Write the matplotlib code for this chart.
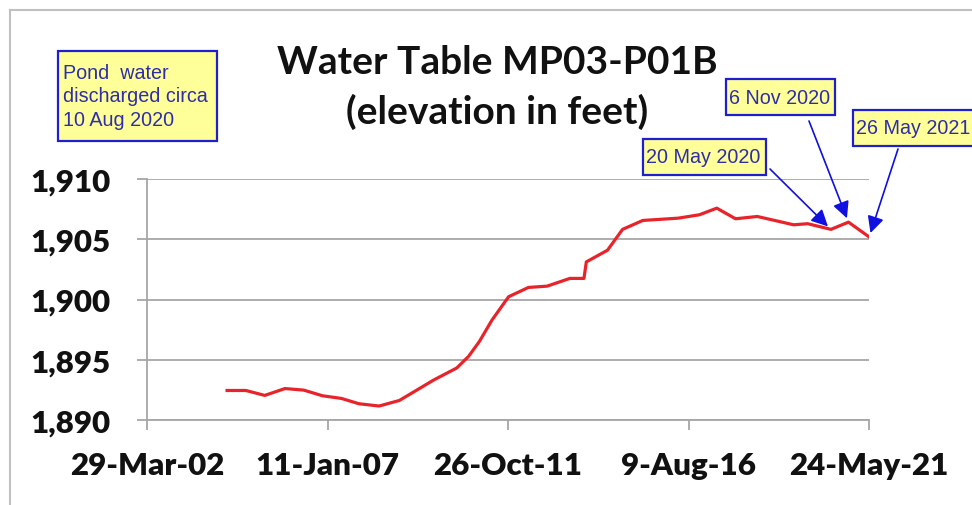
import numpy as np
import pandas as pd
import matplotlib
matplotlib.use("Agg")
import matplotlib.pyplot as plt
from matplotlib.lines import Line2D
from matplotlib.patches import Rectangle

# survey dates and water table elevation (ft)
dates = pd.to_datetime([
    "2004-05-13", "2004-11-11", "2005-05-13", "2005-11-25", "2006-05-26",
    "2006-11-24", "2007-05-26", "2007-11-11", "2008-05-25", "2008-12-07",
    "2009-05-25", "2009-11-01", "2010-06-17", "2010-10-09", "2011-01-22",
    "2011-05-25", "2011-11-01", "2012-05-11", "2012-11-09", "2013-06-16",
    "2013-10-31", "2013-11-23", "2014-06-16", "2014-11-09", "2015-05-24",
    "2016-05-01", "2016-11-22", "2017-05-10", "2017-11-08", "2018-06-06",
    "2018-11-22", "2019-05-24", "2019-10-08", "2020-05-20", "2020-11-06",
    "2021-05-26",
])
elev = [
    1892.45, 1892.45, 1892.04, 1892.61, 1892.48,
    1892.01, 1891.79, 1891.35, 1891.16, 1891.62,
    1892.48, 1893.30, 1894.32, 1895.28, 1896.52,
    1898.31, 1900.23, 1901.00, 1901.11, 1901.75,
    1901.75, 1903.12, 1904.09, 1905.82, 1906.56,
    1906.75, 1907.03, 1907.58, 1906.70, 1906.89,
    1906.56, 1906.20, 1906.29, 1905.82, 1906.42,
    1905.19,
]

x_ticks = pd.to_datetime(["2002-03-29", "2007-01-11", "2011-10-26", "2016-08-09", "2021-05-24"])
y_ticks = [1890, 1895, 1900, 1905, 1910]

callouts = ["20 May 2020", "6 Nov 2020", "26 May 2021"]
callout_dates = pd.to_datetime(["2020-05-20", "2020-11-06", "2021-05-26"])
callout_vals = [1905.82, 1906.42, 1905.19]

W, H = 972, 506
fig = plt.figure(figsize=(W / 100, H / 100), dpi=100)
ax = fig.add_axes([147 / W, 1 - 421 / H, (869 - 147) / W, (421 - 180) / H])

grey = "#a6a6a6"
ax.plot(dates, elev, color="#e8242a", lw=2.3, solid_joinstyle="round")

ax.set_xlim(x_ticks[0], x_ticks[-1])
ax.set_ylim(1890, 1910)
ax.set_xticks(x_ticks)
ax.set_xticklabels([f"{d.day}-{d.strftime('%b-%y')}" for d in x_ticks])
ax.set_yticks(y_ticks)
ax.set_yticklabels([f"{v:,}" for v in y_ticks])
ax.grid(axis="y", color=grey, lw=1.3)
ax.set_axisbelow(True)
for s in ["top", "right"]:
    ax.spines[s].set_visible(False)
for s in ["left", "bottom"]:
    ax.spines[s].set_color(grey)
    ax.spines[s].set_linewidth(1.3)
ax.tick_params(axis="both", color=grey, width=1.3, length=7, direction="out")
ax.tick_params(axis="x", pad=15)
ax.tick_params(axis="y", pad=19)
for lab in ax.get_xticklabels() + ax.get_yticklabels():
    lab.set_fontfamily("Lato")
    lab.set_fontweight("heavy")
    lab.set_fontsize(22.5)
    lab.set_color("#111111")

# outer chart frame
fig.add_artist(Line2D([10 / W, 10 / W], [0, 1 - 11 / H], color="#c0c0c0", lw=1.5))
fig.add_artist(Line2D([10 / W, 1], [1 - 11 / H, 1 - 11 / H], color="#c0c0c0", lw=1.5))

fig.text(497 / W, 1 - 62 / H, "Water Table MP03-P01B", ha="center", va="center",
         fontsize=28, fontweight="bold", family="Lato", color="#111111")
fig.text(497 / W, 1 - 112 / H, "(elevation in feet)", ha="center", va="center",
         fontsize=28, fontweight="bold", family="Lato", color="#111111")

txt_font = dict(family=["Liberation Sans Narrow", "Liberation Sans"], fontsize=14.2, color="#2e2ea8")


def callout_box(x0, y0, x1, y1):
    fig.add_artist(Rectangle((x0 / W, 1 - y1 / H), (x1 - x0) / W, (y1 - y0) / H,
                             transform=fig.transFigure, fc="#ffff99", ec="#1f1fd0", lw=1.6,
                             zorder=5))


callout_box(58, 52, 217, 142)
fig.text(63 / W, 1 - 97 / H, "Pond  water\ndischarged circa\n10 Aug 2020", ha="left", va="center",
         linespacing=1.3, zorder=6, **txt_font)

boxes = [(643, 140, 766, 176), (726, 80, 835, 116), (853, 111, 990, 147)]
arrow_start = [(770, 170), (809, 122), (898, 150)]
for lab, d, v, (x0, y0, x1, y1), (sx, sy) in zip(callouts, callout_dates, callout_vals, boxes, arrow_start):
    callout_box(x0, y0, x1, y1)
    fig.text((x0 + 3) / W, 1 - (y0 + y1) / 2 / H, lab, ha="left", va="center", zorder=6, **txt_font)
    ax.annotate("", xy=(d, v), xycoords="data",
                xytext=(sx / W, 1 - sy / H), textcoords="figure fraction",
                arrowprops=dict(arrowstyle="-|>,head_length=1.0,head_width=0.5",
                                color="#1010e0", lw=1.2, shrinkA=0, shrinkB=3))

fig.savefig("out.png", dpi=100)
